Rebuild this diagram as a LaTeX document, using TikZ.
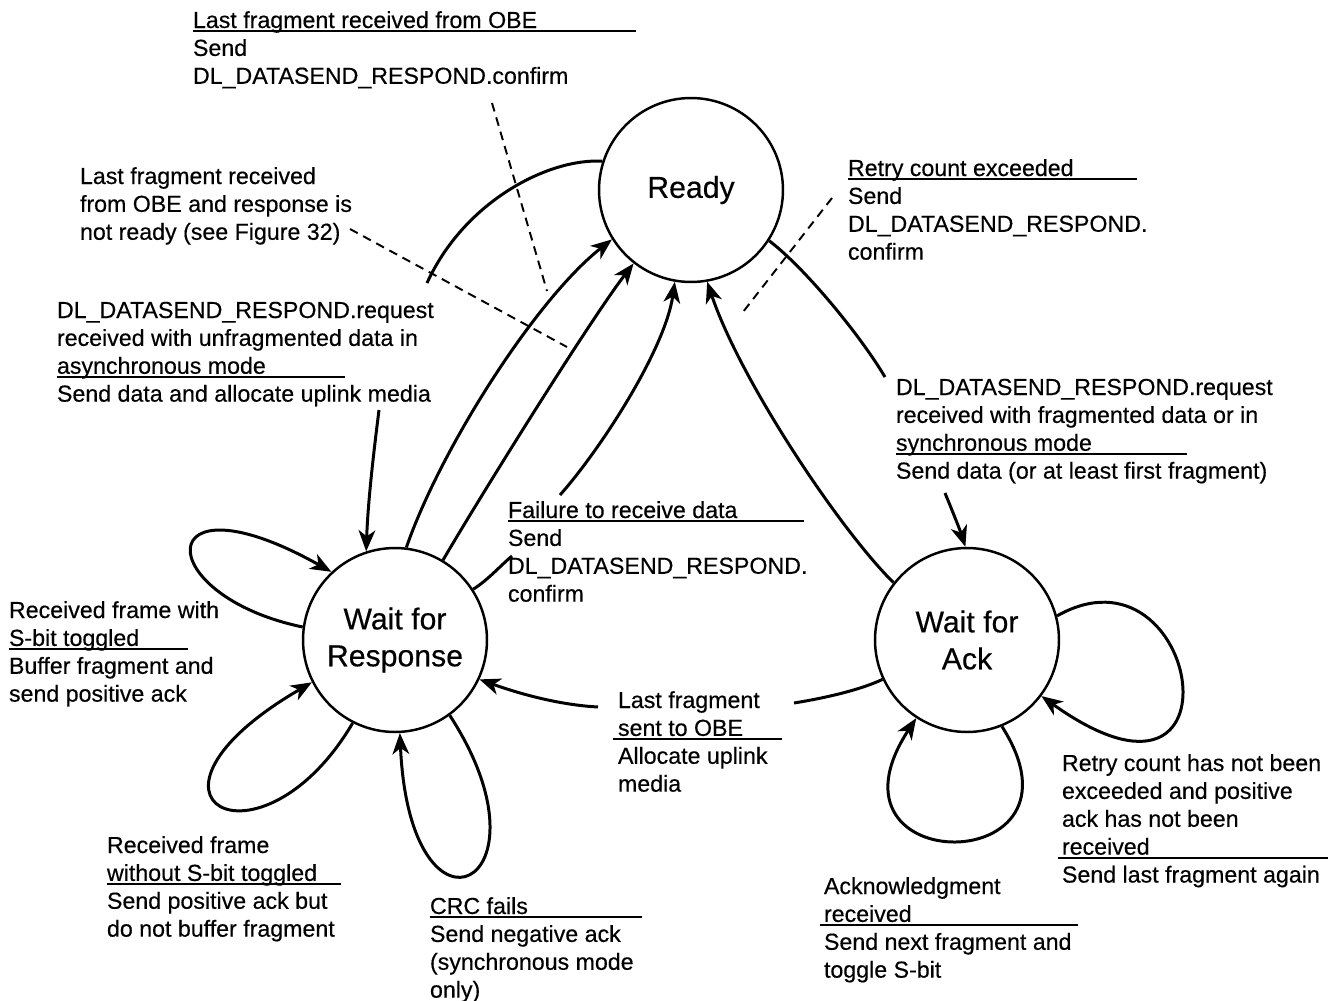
\documentclass[tikz,border=0pt]{standalone}
\usepackage{fontspec}
\setmainfont{Liberation Sans}[UprightFeatures={FakeBold=0.4}]
\usetikzlibrary{arrows.meta}

% one drawing unit = 0.02cm
\newlength\pxu
\setlength\pxu{0.02cm}
% a single text line
\newcommand\tline[1]{\hbox{#1}}
% underline of a given length (in drawing units) starting at the line start
\newcommand\ulto[1]{\rlap{\rule[-4\pxu]{#1\pxu}{2\pxu}}}
% a block of label lines whose baseline is the first line's baseline
\newcommand\lbltext[1]{\vtop{\fontsize{13.2pt}{15.87pt}\selectfont #1}}

\tikzset{
  state/.style={circle, draw, line width=1.4pt, minimum size=3.68cm, inner sep=0pt,
    align=center, font=\fontsize{17.2pt}{21pt}\selectfont},
  lbl/.style={anchor=base west, inner sep=0pt, outer sep=0pt},
  edge/.style={line width=1.7pt},
  arr/.style={edge, -{Stealth[length=12pt,width=9.5pt,inset=3.5pt]}},
  callout/.style={line width=1.1pt, dash pattern=on 5pt off 3.5pt},
}

\begin{document}
\begin{tikzpicture}[x=0.02cm, y=-0.02cm]
\fill[white] (0,0) rectangle (1330,1001);
\useasboundingbox (0,0) rectangle (1330,1001);

% states
\node[state] (ready) at (691,190) {Ready};
\node[state] (wfr) at (395,640) {Wait for\\Response};
\node[state] (wfa) at (967,640) {Wait for\\Ack};

% free ends of split connectors and callout ends
\coordinate (aEnd) at (427,283);
\coordinate (uStart) at (379,410);
\coordinate (fEnd) at (885,377);
\coordinate (fStart) at (945,493);
\coordinate (dMid1) at (512,556);
\coordinate (dMid2) at (560,495);
\coordinate (sEnd) at (794,703);
\coordinate (sStart) at (598,707);
\coordinate (c1a) at (350,229);
\coordinate (c1b) at (567,347);
\coordinate (c2a) at (492,103);
\coordinate (c2b) at (547,291);
\coordinate (c3a) at (832,198);
\coordinate (c3b) at (743,312);

% Ready -> Wait for Response (unfragmented, asynchronous)
\draw[edge] (ready.162) .. controls (550,158) and (465,200) .. (aEnd);
\draw[arr] (uStart) .. controls (374,450) and (368,500) .. (wfr.108);

% Wait for Response -> Ready
\draw[arr] (wfr.83) .. controls (440,450) and (535,300) .. (ready.212);
\draw[arr] (wfr.59) .. controls (478,500) and (590,320) .. (ready.232);
\draw[edge] (wfr.33) .. controls (488,580) and (500,566) .. (dMid1);
\draw[arr] (dMid2) .. controls (600,450) and (665,350) .. (ready.260);

% Wait for Ack -> Ready
\draw[arr] (wfa.142) .. controls (840,530) and (740,380) .. (ready.280);

% Ready -> Wait for Ack
\draw[edge] (ready.327) .. controls (805,268) and (860,335) .. (fEnd);
\draw[arr] (fStart) .. controls (952,510) and (960,530) .. (wfa.91);

% Wait for Ack -> Wait for Response
\draw[edge] (wfa.205) .. controls (860,690) and (825,698) .. (sEnd);
\draw[arr] (sStart) .. controls (560,705) and (520,694) .. (wfr.335);

% self loops on Wait for Response
\draw[arr] (wfr.172) .. controls (150,595) and (150,470) .. (wfr.133);
\draw[arr] (wfr.243) .. controls (260,880) and (110,800) .. (wfr.207);
\draw[arr] (wfr.306) .. controls (560,885) and (410,960) .. (wfr.273);

% self loops on Wait for Ack
\draw[arr] (wfa.15) .. controls (1200,535) and (1250,845) .. (wfa.323);
\draw[arr] (wfa.292) .. controls (1100,880) and (810,880) .. (wfa.237);

% callouts
\draw[callout] (c1a) -- (c1b);
\draw[callout] (c2a) -- (c2b);
\draw[callout] (c3a) -- (c3b);

% transition labels
\node[lbl] (t1) at (193,28) {\lbltext{%
  \tline{\ulto{443}Last fragment received from OBE}%
  \tline{Send}%
  \tline{DL\_DATASEND\_RESPOND.confirm}}};
\node[lbl] (t2) at (80,184) {\lbltext{%
  \tline{Last fragment received}%
  \tline{from OBE and response is}%
  \tline{not ready (see Figure 32)}}};
\node[lbl] (t3) at (57,318) {\lbltext{%
  \tline{DL\_DATASEND\_RESPOND.request}%
  \tline{received with unfragmented data in}%
  \tline{\ulto{288}asynchronous mode}%
  \tline{Send data and allocate uplink media}}};
\node[lbl] (t4) at (848,176) {\lbltext{%
  \tline{\ulto{289}Retry count exceeded}%
  \tline{Send}%
  \tline{DL\_DATASEND\_RESPOND.}%
  \tline{confirm}}};
\node[lbl] (t5) at (896,395) {\lbltext{%
  \tline{DL\_DATASEND\_RESPOND.request}%
  \tline{received with fragmented data or in}%
  \tline{\ulto{291}synchronous mode}%
  \tline{Send data (or at least first fragment)}}};
\node[lbl] (t6) at (508,518) {\lbltext{%
  \tline{\ulto{296}Failure to receive data}%
  \tline{Send}%
  \tline{DL\_DATASEND\_RESPOND.}%
  \tline{confirm}}};
\node[lbl] (t7) at (9,618) {\lbltext{%
  \tline{Received frame with}%
  \tline{\ulto{179}S-bit toggled}%
  \tline{Buffer fragment and}%
  \tline{send positive ack}}};
\node[lbl] (t8) at (618,708) {\lbltext{%
  \tline{Last fragment}%
  \tline{\hspace*{-5\pxu}\ulto{169}\hspace*{5\pxu}sent to OBE}%
  \tline{Allocate uplink}%
  \tline{media}}};
\node[lbl] (t9) at (107,853) {\lbltext{%
  \tline{Received frame}%
  \tline{\ulto{234}without S-bit toggled}%
  \tline{Send positive ack but}%
  \tline{do not buffer fragment}}};
\node[lbl] (t10) at (430,914) {\lbltext{%
  \tline{\ulto{212}CRC fails}%
  \tline{Send negative ack}%
  \tline{(synchronous mode}%
  \tline{only)}}};
\node[lbl] (t11) at (1062,771) {\lbltext{%
  \tline{Retry count has not been}%
  \tline{exceeded and positive}%
  \tline{ack has not been}%
  \tline{\hspace*{-4\pxu}\ulto{270}\hspace*{4\pxu}received}%
  \tline{Send last fragment again}}};
\node[lbl] (t12) at (824,894) {\lbltext{%
  \tline{Acknowledgment}%
  \tline{\hspace*{-4\pxu}\ulto{258}\hspace*{4\pxu}received}%
  \tline{Send next fragment and}%
  \tline{toggle S-bit}}};
\end{tikzpicture}
\end{document}
